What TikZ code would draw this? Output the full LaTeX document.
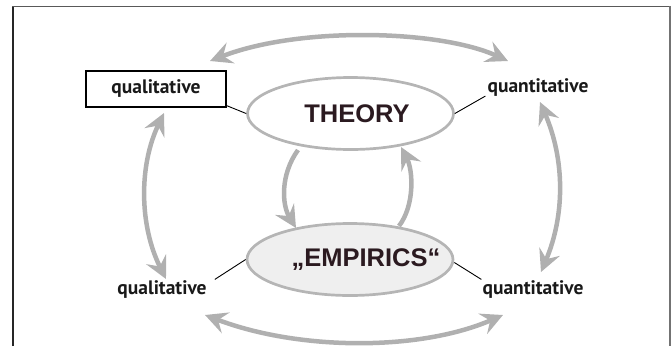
\documentclass[tikz,border=0pt]{standalone}
\usepackage{fontspec}
\setmainfont{Liberation Sans}
\newfontfamily\ptsans{PT Sans}
\usetikzlibrary{arrows.meta,shapes.geometric}
\definecolor{arrgray}{HTML}{B0B0B0}
\definecolor{ellgray}{HTML}{B5B5B5}
\definecolor{darktext}{HTML}{2B1A20}
\definecolor{empfill}{HTML}{EFEFEF}
\begin{document}
\begin{tikzpicture}[x=1pt,y=-1pt,
  tipS/.tip={Stealth[length=22pt,width=22pt,inset=8pt]},
  garrow/.style={draw=arrgray, line width=4.5pt},
  ell/.style={ellipse, draw=ellgray, line width=2.7pt, minimum width=206pt, minimum height=72pt, inner sep=0pt,
     font=\bfseries\fontsize{25.5}{28}\selectfont, text=darktext},
  lbl/.style={font=\ptsans\bfseries\fontsize{19.5}{22}\selectfont, inner sep=1pt, text=black!90},
  qbox/.style={lbl, draw=black, line width=1.2pt, minimum width=140pt, minimum height=36pt},
  conn/.style={draw=black, line width=0.9pt}]
\useasboundingbox (0,0) rectangle (672,346);
% frame
\draw[black!85, line width=1.2pt] (13,346) -- (13,6.5);
\draw[black!65, line width=1.2pt] (12.4,6.5) -- (670,6.5);
\draw[black!55, line width=1.6pt] (670,5.9) -- (670,346);
% nodes
\node[ell] (theory) at (350.5,113.5) {\hspace*{13pt}\makebox[0pt]{\raisebox{-4pt}{THEORY}}};
\node[ell, fill=empfill] (emp) at (350,259.5) {\hspace*{32pt}\makebox[0pt]{\raisebox{-4pt}{„EMPIRICS“}}};
\node[qbox] (qbox) at (156,89) {qualitative};
\node[lbl] (qtop) at (538,88) {quantitative};
\node[lbl] (qlbot) at (162,289.5) {qualitative};
\node[lbl] (qnbot) at (533,289.5) {quantitative};
% thin connectors
\draw[conn] ([yshift=2pt]qbox.south east) -- (theory.west);
\draw[conn] (theory.east) -- ([xshift=-1pt,yshift=2pt]qtop.south west);
\draw[conn] (emp.west) -- ([xshift=7pt]qlbot.north east);
\draw[conn] ([yshift=-3pt]emp.east) -- (qnbot.north west);
% gray arrows
\draw[garrow, tipS-tipS] (210,61) .. controls (300,26) and (440,30) .. (508,61);
\draw[garrow, tipS-tipS] (205,315) .. controls (300,351) and (420,351) .. (503,315);
\draw[garrow, tipS-tipS] (166,279) .. controls (139,225) and (139,165) .. (164,113);
\draw[garrow, tipS-tipS] (540,102) .. controls (565,160) and (565,215) .. (541,272);
\draw[garrow, -tipS] (298,150) .. controls (280,175) and (282,205) .. (296,228);
\draw[garrow, -tipS] (399,226) .. controls (415,205) and (413,170) .. (401,147);
\end{tikzpicture}
\end{document}
